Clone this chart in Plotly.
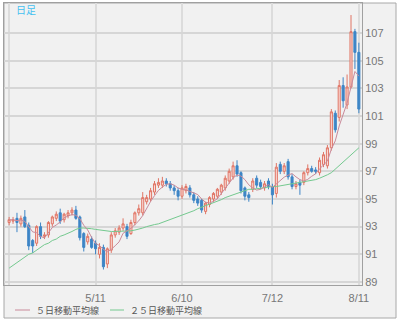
import pandas as pd
import plotly.graph_objects as go

# Daily OHLC, one row per trading day (index 0 .. 89)
opens = [93.3, 93.4, 93.6, 93.2, 93.7, 93.1, 92.0, 91.8, 93.0, 92.3,
         92.4, 93.2, 93.6, 94.0, 93.5, 93.8, 94.0, 94.2, 93.7, 92.5,
         91.9, 92.1, 91.8, 91.0, 91.5, 90.3, 91.3, 92.4, 92.6, 92.9,
         93.0, 92.5, 93.3, 94.0, 94.0, 94.8, 95.0, 95.5, 96.0, 96.0,
         96.3, 96.1, 95.8, 95.6, 95.2, 95.6, 95.8, 95.3, 95.0, 94.9,
         94.1, 94.6, 95.0, 95.2, 95.5, 95.8, 96.3, 96.6, 97.4, 96.9,
         95.8, 95.3, 95.7, 96.5, 96.2, 95.8, 96.3, 95.9, 95.4, 97.5,
         97.0, 97.7, 96.6, 95.9, 96.2, 96.2, 96.9, 97.2, 97.1, 96.9,
         97.5, 97.4, 98.7, 101.2, 100.9, 103.2, 101.8, 103.1, 107.1, 105.6]
highs = [93.7, 93.7, 94.0, 93.8, 94.2, 93.3, 92.1, 93.1, 93.3, 92.6,
         93.4, 93.8, 94.1, 94.3, 94.0, 94.2, 94.4, 94.5, 93.8, 92.6,
         92.5, 92.3, 92.0, 91.8, 91.7, 91.5, 92.6, 92.9, 93.1, 93.6,
         93.2, 93.5, 94.1, 94.6, 95.5, 95.3, 95.8, 96.3, 96.5, 96.6,
         96.5, 96.3, 96.0, 95.8, 96.0, 96.1, 96.0, 95.5, 95.2, 95.0,
         94.8, 95.2, 95.5, 95.8, 96.1, 96.7, 97.2, 97.7, 97.8, 97.0,
         95.9, 95.5, 96.5, 96.7, 96.4, 96.3, 96.5, 96.1, 97.6, 97.7,
         97.6, 97.9, 96.8, 96.3, 96.4, 97.0, 97.5, 97.4, 97.3, 98.0,
         98.4, 98.9, 101.5, 101.4, 103.6, 103.8, 104.0, 108.3, 107.3, 106.3]
lows = [93.1, 93.2, 92.6, 93.0, 92.9, 91.3, 91.1, 91.6, 92.1, 92.1,
        92.2, 93.0, 93.4, 93.2, 93.3, 93.6, 93.8, 93.5, 92.0, 91.2,
        91.7, 91.4, 91.0, 90.7, 89.9, 90.0, 91.1, 92.2, 92.4, 92.7,
        92.1, 92.4, 93.1, 93.8, 93.8, 94.6, 94.8, 95.3, 95.8, 95.8,
        95.9, 95.6, 95.3, 94.9, 95.0, 95.4, 95.1, 94.7, 94.5, 94.0,
        93.9, 94.4, 94.8, 95.0, 95.3, 95.6, 96.1, 96.4, 96.6, 95.4,
        94.9, 94.8, 95.5, 95.8, 95.7, 95.6, 95.7, 94.6, 95.1, 96.8,
        96.8, 96.4, 95.7, 95.7, 95.3, 96.0, 96.7, 96.9, 96.8, 96.7,
        97.3, 97.2, 98.5, 99.8, 100.6, 101.6, 101.5, 103.0, 104.4, 101.2]
closes = [93.5, 93.5, 93.3, 93.6, 93.0, 91.6, 91.6, 93.0, 92.3, 92.4,
          93.3, 93.7, 93.9, 93.4, 93.9, 94.0, 94.2, 93.6, 92.2, 91.5,
          92.3, 91.5, 91.4, 91.5, 90.1, 91.4, 92.4, 92.7, 92.9, 93.2,
          92.3, 93.3, 94.0, 94.3, 95.1, 95.1, 95.6, 96.1, 96.2, 96.3,
          96.1, 95.8, 95.6, 95.2, 95.8, 95.9, 95.3, 94.9, 94.7, 94.2,
          94.7, 95.1, 95.4, 95.7, 96.0, 96.5, 97.0, 97.4, 96.8, 95.6,
          95.2, 95.1, 96.3, 96.0, 95.9, 96.1, 95.9, 95.3, 97.3, 97.0,
          97.4, 96.6, 95.9, 96.1, 96.0, 96.9, 97.2, 97.0, 97.0, 97.8,
          98.2, 98.7, 101.3, 100.0, 103.2, 102.1, 103.1, 107.1, 105.6, 101.5]

# 25-day moving average as plotted (longer history not shown here)
ma25 = [90.0, 90.2, 90.4, 90.6, 90.8, 91.0, 91.1, 91.3, 91.5, 91.7,
        91.8, 92.0, 92.1, 92.3, 92.4, 92.5, 92.65, 92.8, 92.9, 92.9,
        92.9, 92.85, 92.8, 92.75, 92.7, 92.7, 92.65, 92.65, 92.65, 92.7,
        92.7, 92.7, 92.75, 92.8, 92.9, 93.0, 93.1, 93.15, 93.2, 93.3,
        93.4, 93.5, 93.6, 93.75, 93.85, 93.95, 94.05, 94.15, 94.3, 94.4,
        94.5, 94.6, 94.7, 94.85, 94.95, 95.1, 95.2, 95.35, 95.45, 95.55,
        95.65, 95.7, 95.7, 95.75, 95.8, 95.8, 95.85, 95.9, 95.9, 95.95,
        96.0, 96.05, 96.1, 96.1, 96.15, 96.2, 96.25, 96.3, 96.4, 96.5,
        96.6, 96.75, 96.9, 97.15, 97.4, 97.65, 97.9, 98.2, 98.45, 98.7]

# Month ticks along the day axis (first one unlabeled)
tick_pos = [0, 22, 44, 67, 89]
tick_text = ["", "5/11", "6/10", "7/12", "8/11"]
price_ticks = [89, 91, 93, 95, 97, 99, 101, 103, 105, 107]

days = list(range(len(closes)))
ma5 = pd.Series(closes).rolling(5, min_periods=1).mean()

W, H = 400, 322
L, R, T, B = 4, 362, 3, 285          # plot area in pixels
FRAME_R, FRAME_B = 396, 318          # outer frame in pixels


def px_x(px):
    return (px - L) / (R - L)


def px_y(py):
    return (B - py) / (B - T)


fig = go.Figure()

fig.add_trace(go.Scatter(
    x=days, y=ma25, mode="lines", name="２５日移動平均線",
    line=dict(color="#74c98f", width=1), hoverinfo="skip"))

fig.add_trace(go.Candlestick(
    x=days, open=opens, high=highs, low=lows, close=closes,
    increasing=dict(line=dict(color="#e07565", width=1), fillcolor="#fbdcd8"),
    decreasing=dict(line=dict(color="#3d85c6", width=1), fillcolor="#3d85c6"),
    whiskerwidth=0, name="日足"))

fig.add_trace(go.Scatter(
    x=days, y=ma5, mode="lines", name="５日移動平均線",
    line=dict(color="#c98a9a", width=1), hoverinfo="skip"))

shapes = [
    # grey frame around the chart (sits under the white plot area)
    dict(type="rect", xref="paper", yref="paper", layer="below",
         x0=px_x(L), x1=px_x(FRAME_R), y0=px_y(FRAME_B), y1=px_y(T),
         fillcolor="#f1f1f1", line=dict(color="#a8a8a8", width=1)),
    # legend swatches
    dict(type="line", xref="paper", yref="paper",
         x0=px_x(15), x1=px_x(30), y0=px_y(310), y1=px_y(310),
         line=dict(color="#c98a9a", width=1)),
    dict(type="line", xref="paper", yref="paper",
         x0=px_x(110), x1=px_x(124), y0=px_y(310), y1=px_y(310),
         line=dict(color="#74c98f", width=1)),
]

annotations = [
    dict(text="日足", xref="paper", yref="paper", x=px_x(14), y=px_y(10),
         xanchor="left", yanchor="middle", showarrow=False,
         font=dict(family="Noto Sans CJK JP", size=10, color="#45c0f0")),
    dict(text="５日移動平均線", xref="paper", yref="paper", x=px_x(34), y=px_y(310),
         xanchor="left", yanchor="middle", showarrow=False,
         font=dict(family="Noto Sans CJK JP", size=9, color="#555555")),
    dict(text="２５日移動平均線", xref="paper", yref="paper", x=px_x(128), y=px_y(310),
         xanchor="left", yanchor="middle", showarrow=False,
         font=dict(family="Noto Sans CJK JP", size=9, color="#555555")),
]

fig.update_layout(
    width=W, height=H,
    margin=dict(l=L, r=W - R, t=T, b=H - B, pad=0),
    paper_bgcolor="white", plot_bgcolor="white",
    showlegend=False,
    shapes=shapes, annotations=annotations,
    boxgap=0.25,
    xaxis=dict(
        range=[-1.3, 89.8], rangeslider=dict(visible=False),
        tickmode="array", tickvals=tick_pos, ticktext=tick_text,
        showgrid=True, gridcolor="#dcdcdc", gridwidth=1.5,
        showline=True, linecolor="#a0a0a0", linewidth=1, mirror=True,
        ticks="", zeroline=False, ticklabelstandoff=3,
        tickfont=dict(family="Liberation Sans", size=11, color="#777777")),
    yaxis=dict(
        range=[88.78, 109.17], side="right",
        tickmode="array", tickvals=price_ticks,
        showgrid=True, gridcolor="#d6d6d6", gridwidth=1.5,
        showline=True, linecolor="#a0a0a0", linewidth=1, mirror=True,
        ticks="", zeroline=False,
        tickfont=dict(family="Liberation Sans", size=11, color="#777777")),
)

fig.write_html("out.html")
